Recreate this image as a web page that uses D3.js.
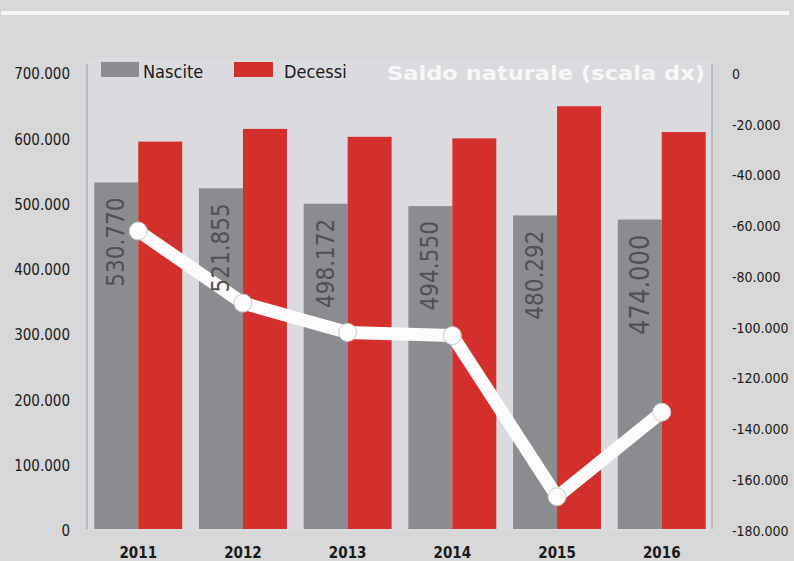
<!DOCTYPE html>
<html>
<head>
<meta charset="utf-8">
<script src="https://cdn.jsdelivr.net/npm/d3@7"></script>
<style>
  html, body { margin: 0; padding: 0; background: #d7d7d7; }
  svg { display: block; }
  .narrow { font-family: "Liberation Sans Narrow", "Arial Narrow", "DejaVu Sans Condensed", sans-serif; }
</style>
</head>
<body>
<div id="chart"></div>
<script>
const width = 794, height = 561;

// dati
const anni = ["2011", "2012", "2013", "2014", "2015", "2016"];
const nascite = [530770, 521855, 498172, 494550, 480292, 474000];
const decessi = [593402, 612883, 600744, 598364, 647571, 608000];
const saldo = [-62632, -91028, -102572, -103814, -167279, -134000];
const etichette = ["530.770", "521.855", "498.172", "494.550", "480.292", "474.000"];
const tickSx = [0, 100000, 200000, 300000, 400000, 500000, 600000, 700000];
const tickDx = [0, -20000, -40000, -60000, -80000, -100000, -120000, -140000, -160000, -180000];

const margin = {left: 88, right: 82, top: 72, bottom: 32};
const fmt = v => d3.format(",")(v).replace(/,/g, ".").replace("\u2212", "-");

const svg = d3.select("#chart").append("svg")
  .attr("width", width)
  .attr("height", height);

svg.append("rect").attr("width", width).attr("height", height).attr("fill", "#d7d7d7");

// linea bianca in alto
svg.append("rect")
  .attr("x", 1).attr("y", 11).attr("width", width - 6).attr("height", 4)
  .attr("fill", "#f4f4f4");

// area del grafico
svg.append("rect")
  .attr("x", margin.left).attr("y", 58)
  .attr("width", width - margin.left - margin.right)
  .attr("height", height - margin.bottom - 58 + 2)
  .attr("fill", "#dadbde");

const x = d3.scaleBand()
  .domain(anni)
  .range([margin.left, width - margin.right])
  .paddingInner(0.16)
  .paddingOuter(0.06);

const xSub = d3.scaleBand()
  .domain(["nascite", "decessi"])
  .range([0, x.bandwidth()]);

const y = d3.scaleLinear()
  .domain([0, 700000])
  .range([height - margin.bottom, margin.top]);

const y2 = d3.scaleLinear()
  .domain([-180000, 0])
  .range([height - margin.bottom, margin.top]);

// assi
const axSx = svg.append("g")
  .attr("class", "narrow")
  .attr("transform", `translate(${margin.left - 1},0)`)
  .call(d3.axisLeft(y).tickValues(tickSx).tickFormat(fmt).tickSize(0).tickPadding(17));
axSx.select(".domain").attr("stroke", "#9a9ca3").attr("d", `M0,${margin.top - 8}V${height - margin.bottom}`);
axSx.selectAll("text").attr("font-size", 15).attr("fill", "#1a1a1a").attr("dy", "0.45em");

const axDx = svg.append("g")
  .attr("class", "narrow")
  .attr("transform", `translate(${width - margin.right},0)`)
  .call(d3.axisRight(y2).tickValues(tickDx).tickFormat(fmt).tickSize(0).tickPadding(20));
axDx.select(".domain").attr("stroke", "#9a9ca3").attr("d", `M0,${margin.top - 8}V${height - margin.bottom}`);
axDx.selectAll("text").attr("font-size", 14).attr("fill", "#1a1a1a").attr("dy", "0.45em");

const axX = svg.append("g")
  .attr("class", "narrow")
  .attr("transform", `translate(0,${height - margin.bottom})`)
  .call(d3.axisBottom(x).tickSize(0).tickPadding(18));
axX.select(".domain").remove();
axX.selectAll("text").attr("font-size", 15).attr("font-weight", "bold").attr("fill", "#1a1a1a");

// barre
const gruppi = svg.append("g").selectAll("g")
  .data(anni)
  .join("g")
  .attr("transform", d => `translate(${x(d)},0)`);

gruppi.append("rect")
  .attr("x", xSub("nascite"))
  .attr("y", (d, i) => y(nascite[i]))
  .attr("width", xSub.bandwidth())
  .attr("height", (d, i) => y(0) - y(nascite[i]))
  .attr("fill", "#8a8c90");

gruppi.append("rect")
  .attr("x", xSub("decessi"))
  .attr("y", (d, i) => y(decessi[i]))
  .attr("width", xSub.bandwidth())
  .attr("height", (d, i) => y(0) - y(decessi[i]))
  .attr("fill", "#d3302d");

// linea saldo naturale
const cx = d => x(d) + x.bandwidth() / 2;
const linea = d3.line()
  .x(d => cx(d))
  .y((d, i) => y2(saldo[i]));

svg.append("path")
  .datum(anni)
  .attr("d", linea)
  .attr("fill", "none")
  .attr("stroke", "#fbfbfb")
  .attr("stroke-width", 13)
  .attr("stroke-linejoin", "round");

svg.append("g").selectAll("circle")
  .data(anni)
  .join("circle")
  .attr("cx", d => cx(d))
  .attr("cy", (d, i) => y2(saldo[i]))
  .attr("r", 9)
  .attr("fill", "#fbfbfb")
  .attr("stroke", "#c9cbd0")
  .attr("stroke-width", 1);

// etichette verticali (sopra la linea)
svg.append("g").selectAll("text")
  .data(anni)
  .join("text")
  .attr("class", "narrow")
  .attr("transform", (d, i) => `translate(${x(d) + xSub("nascite") + xSub.bandwidth() / 2 + (i === 5 ? 9 : 8)},${y(nascite[i]) + 15}) rotate(-90)`)
  .attr("text-anchor", "end")
  .attr("font-size", (d, i) => i === 5 ? 27 : 24)
  .attr("fill", "#4f5155")
  .text((d, i) => etichette[i]);

// legenda
const leg = svg.append("g");
leg.append("rect").attr("x", 101).attr("y", 62).attr("width", 38).attr("height", 15).attr("fill", "#8a8c90");
leg.append("text").attr("class", "narrow").attr("x", 143).attr("y", 78).attr("font-size", 18).attr("fill", "#1a1a1a").text("Nascite");
leg.append("rect").attr("x", 234).attr("y", 62).attr("width", 39).attr("height", 15).attr("fill", "#d3302d");
leg.append("text").attr("class", "narrow").attr("x", 284).attr("y", 78).attr("font-size", 18).attr("fill", "#1a1a1a").text("Decessi");
leg.append("text")
  .attr("x", 387).attr("y", 80)
  .attr("font-family", "'DejaVu Sans', sans-serif")
  .attr("font-weight", "bold")
  .attr("font-size", 19)
  .attr("textLength", 318)
  .attr("lengthAdjust", "spacingAndGlyphs")
  .attr("fill", "#f7f7f7")
  .text("Saldo naturale (scala dx)");
</script>
</body>
</html>
